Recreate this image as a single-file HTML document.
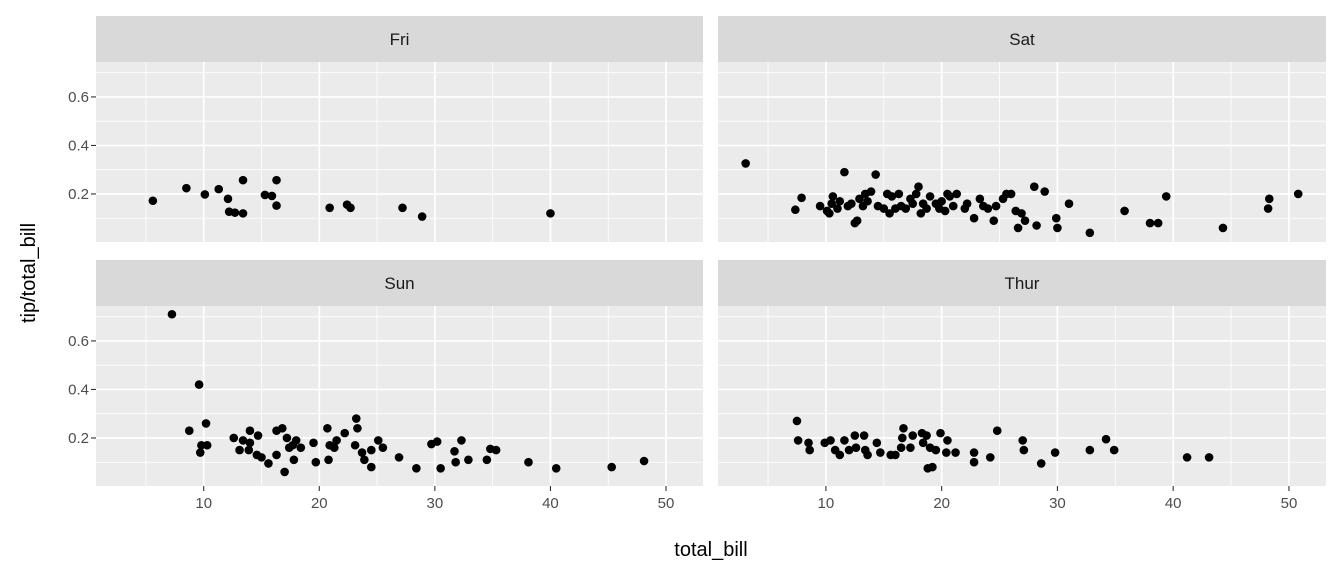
<!DOCTYPE html>
<html><head><meta charset="utf-8"><style>
html,body{margin:0;padding:0;background:#fff;}
svg{display:block;font-family:"Liberation Sans",sans-serif;}
</style></head><body>
<svg id="chart" width="1344" height="576" viewBox="0 0 1344 576" xmlns="http://www.w3.org/2000/svg"></svg>
<script>
const xTicks = [10, 20, 30, 40, 50];
const yTicks = [0.2, 0.4, 0.6];
const facetNames = ["Fri", "Sat", "Sun", "Thur"];
const friBill = [5.6,8.5,10.1,11.3,12.1,12.2,12.7,13.4,13.4,15.3,15.9,16.3,16.3,20.9,22.4,22.7,27.2,28.9,40.0];
const friRatio = [0.172,0.224,0.198,0.22,0.18,0.127,0.123,0.257,0.12,0.196,0.192,0.257,0.152,0.143,0.156,0.143,0.143,0.107,0.12];
const satBill = [3.07,7.36,7.9,9.5,10.1,10.3,10.5,10.6,11,11.2,11.6,11.9,12.2,12.5,12.7,12.9,13.2,13.4,13.6,13.9,14.3,14.5,15,15.3,15.5,15.7,16,16.3,16.5,16.9,17.3,17.5,17.8,18,18.2,18.4,18.7,19,19.5,19.8,20,20.3,20.5,20.7,21,21.3,22,22.2,22.8,23.3,23.6,24,24.5,24.7,25.3,25.6,26,26.4,26.6,26.9,27.2,28,28.2,28.9,29.9,30,31,32.8,35.8,38,38.7,39.4,44.3,48.2,48.3,50.8];
const satRatio = [0.326,0.135,0.184,0.15,0.13,0.12,0.16,0.19,0.14,0.17,0.29,0.15,0.16,0.08,0.09,0.18,0.15,0.2,0.17,0.21,0.28,0.15,0.14,0.2,0.12,0.19,0.14,0.2,0.15,0.14,0.18,0.16,0.2,0.23,0.12,0.16,0.14,0.19,0.16,0.14,0.17,0.13,0.2,0.19,0.15,0.2,0.14,0.16,0.1,0.18,0.15,0.14,0.09,0.15,0.18,0.2,0.2,0.13,0.06,0.12,0.09,0.23,0.07,0.21,0.1,0.06,0.16,0.04,0.13,0.08,0.08,0.19,0.06,0.14,0.18,0.2];
const sunBill = [7.25,9.6,8.75,9.7,9.8,10.2,10.3,12.6,13.4,14,14.7,14,13.1,13.9,14.6,15,15.6,16.3,17,16.3,16.8,17.2,18,17.4,17.7,18.4,17.8,19.5,19.7,20.7,20.8,20.9,21.3,21.5,22.2,23.2,23.3,23.1,23.7,23.9,24.5,24.5,25.1,25.5,26.9,28.4,29.7,30.2,30.5,31.7,32.3,32.9,31.8,34.5,34.8,35.3,38.1,40.5,45.3,48.1];
const sunRatio = [0.71,0.42,0.23,0.14,0.17,0.26,0.17,0.2,0.19,0.23,0.21,0.18,0.15,0.15,0.13,0.12,0.095,0.13,0.06,0.23,0.24,0.2,0.19,0.16,0.17,0.16,0.11,0.18,0.1,0.24,0.11,0.17,0.16,0.19,0.22,0.28,0.24,0.17,0.14,0.11,0.08,0.15,0.19,0.16,0.12,0.075,0.175,0.185,0.075,0.145,0.19,0.11,0.1,0.11,0.155,0.15,0.1,0.075,0.08,0.105];
const thurBill = [7.5,7.6,8.5,8.6,9.9,10.4,10.8,11.2,11.6,12,12.5,12.6,13.3,13.4,13.6,14.4,14.7,15.6,16,16.5,16.6,16.7,17.3,17.5,18.3,18.7,18.4,19,19.5,19.9,20.5,20.4,21.2,18.8,19.2,22.8,22.8,24.2,24.8,27,27.1,28.6,29.8,32.8,34.2,34.9,41.2,43.1];
const thurRatio = [0.27,0.19,0.18,0.15,0.18,0.19,0.15,0.13,0.19,0.15,0.21,0.16,0.21,0.15,0.13,0.18,0.14,0.13,0.13,0.16,0.2,0.24,0.16,0.21,0.22,0.21,0.18,0.16,0.15,0.22,0.19,0.14,0.14,0.075,0.08,0.14,0.1,0.12,0.23,0.19,0.15,0.095,0.14,0.15,0.195,0.15,0.12,0.12];

const NS = "http://www.w3.org/2000/svg";
const svg = document.getElementById("chart");
function mk(tag, attrs, parent){const e=document.createElementNS(NS,tag);for(const k in attrs)e.setAttribute(k,attrs[k]);(parent||svg).appendChild(e);return e;}

const xMin = 0.68, xMax = 53.2, yMin = 0.002, yMax = 0.744;
const panels = [
  {name:facetNames[0], x0:96, x1:703, sy:16, y0:62, y1:242, bill:friBill, ratio:friRatio, left:true, bottom:false},
  {name:facetNames[1], x0:718, x1:1326, sy:16, y0:62, y1:242, bill:satBill, ratio:satRatio, left:false, bottom:false},
  {name:facetNames[2], x0:96, x1:703, sy:260, y0:306, y1:486, bill:sunBill, ratio:sunRatio, left:true, bottom:true},
  {name:facetNames[3], x0:718, x1:1326, sy:260, y0:306, y1:486, bill:thurBill, ratio:thurRatio, left:false, bottom:true}
];
panels.forEach(p=>{
  const sx = v => p.x0 + (v - xMin)/(xMax - xMin)*(p.x1 - p.x0);
  const sy = v => p.y1 - (v - yMin)/(yMax - yMin)*(p.y1 - p.y0);
  const g = mk("g",{});
  
  
  const strip = mk("rect",{x:p.x0,y:p.sy,width:p.x1-p.x0,height:p.y0-p.sy,fill:"#d9d9d9"},g);
  
  
  const st = mk("text",{x:(p.x0+p.x1)/2,y:p.sy+29,"text-anchor":"middle","font-size":"17",fill:"#1a1a1a"},g);
  st.textContent = p.name;
  
  
  const bg = mk("rect",{x:p.x0,y:p.y0,width:p.x1-p.x0,height:p.y1-p.y0,fill:"#ebebeb"},g);
  
  
  [5,15,25,35,45].forEach(v=>mk("line",{x1:sx(v),x2:sx(v),y1:p.y0,y2:p.y1,stroke:"#fff","stroke-width":"0.8"},g));
  [0.1,0.3,0.5,0.7].forEach(v=>mk("line",{x1:p.x0,x2:p.x1,y1:sy(v),y2:sy(v),stroke:"#fff","stroke-width":"0.8"},g));
  xTicks.forEach(v=>{
    mk("line",{x1:sx(v),x2:sx(v),y1:p.y0,y2:p.y1,stroke:"#fff","stroke-width":"1.7"},g);
    if(p.bottom){
      mk("line",{x1:sx(v),x2:sx(v),y1:p.y1,y2:p.y1+5,stroke:"#333","stroke-width":"1.1"},g);
      const t = mk("text",{x:sx(v),y:p.y1+22,"text-anchor":"middle","font-size":"15",fill:"#4d4d4d"},g);
      t.textContent = v;
      
      
    }
  });
  yTicks.forEach(v=>{
    mk("line",{x1:p.x0,x2:p.x1,y1:sy(v),y2:sy(v),stroke:"#fff","stroke-width":"1.7"},g);
    if(p.left){
      mk("line",{x1:p.x0-5,x2:p.x0,y1:sy(v),y2:sy(v),stroke:"#333","stroke-width":"1.1"},g);
      const t = mk("text",{x:p.x0-7,y:sy(v)+5,"text-anchor":"end","font-size":"15",fill:"#4d4d4d"},g);
      t.textContent = v.toFixed(1);
      
      
    }
  });
  p.bill.forEach((b,i)=>{
    const c = mk("circle",{cx:sx(b),cy:sy(p.ratio[i]),r:4.3,fill:"#000"},g);
    
    
  });
});
const xt = mk("text",{x:711,y:556,"text-anchor":"middle","font-size":"20",fill:"#000"});
xt.textContent = "total_bill";


const yt = mk("text",{x:0,y:0,"text-anchor":"middle","font-size":"20",fill:"#000",transform:"translate(35,273) rotate(-90)"});
yt.textContent = "tip/total_bill";


</script>
</body></html>
